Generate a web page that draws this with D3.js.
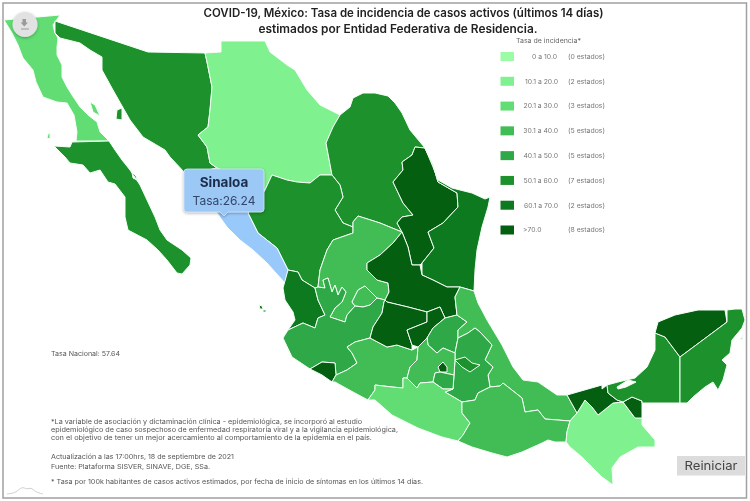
<!DOCTYPE html>
<html>
<head>
<meta charset="utf-8">
<title>Tasa de incidencia</title>
<script src="https://cdnjs.cloudflare.com/ajax/libs/d3/7.8.5/d3.min.js"></script>
<style>
html, body { margin: 0; padding: 0; background: #fff; }
svg { display: block; font-family: Inter, "Noto Sans", sans-serif; filter: blur(0.45px); }
</style>
</head>
<body>
<div id="chart"></div>
<script>
// tasa por estado
var stateNames = ["Baja California","Baja California Sur","Sonora","Chihuahua","Coahuila","Nuevo León","Tamaulipas","Durango","Sinaloa","Nayarit","Zacatecas","San Luis Potosí","Aguascalientes","Jalisco","Colima","Michoacán","Guanajuato","Querétaro","Hidalgo","Veracruz","Puebla","Tlaxcala","México","Ciudad de México","Morelos","Guerrero","Oaxaca","Chiapas","Tabasco","Campeche","Yucatán","Quintana Roo"];
var stateRates = [24,52,55,15,54,78,65,56,26.24,66,36,82,33,45,90,35,76,74,46,38,47,58,37,95,44,25,34,17,85,53,72,51];

// contornos digitalizados del mapa, mismo orden que stateNames
var stateRings = [
 [[[4,20],[60,15],[53,25],[55,33],[58,38],[57,47],[57,55],[62,65],[62,77],[67,87],[72,95],[80,107],[88,115],[97,122],[100,132],[109,141],[76,141],[77,132],[74,115],[67,103],[57,102],[43,97],[36,82],[33,70],[23,58],[18,45],[12,33]],
  [[90,102],[95,105],[100,116],[93,112]],[[48,134],[50,133],[50,139],[47,138]]],
 [[[109,141],[72,142],[70,147],[54,146],[65,157],[70,163],[83,165],[90,173],[100,170],[108,182],[115,184],[125,197],[125,217],[128,230],[147,240],[158,250],[167,260],[177,273],[182,274],[190,265],[191,258],[182,250],[167,240],[160,230],[155,217],[147,200],[140,185],[130,170],[122,160],[115,150]],
  [[132,172],[136,176],[137,180],[133,178]]],
 [[[55,21],[148,52],[205,53],[207,62],[212,87],[210,110],[208,127],[198,135],[207,147],[210,163],[217,168],[195,173],[185,173],[170,157],[165,150],[143,137],[130,120],[113,90],[102,70],[102,57],[90,50],[80,43],[60,38],[55,33]],
  [[117,110],[122,108],[122,120],[116,119]]],
 [[[205,53],[221,52],[221,41],[265,41],[270,52],[287,65],[295,70],[307,90],[320,105],[340,115],[333,127],[326,143],[332,175],[320,175],[310,183],[297,182],[287,180],[272,175],[265,190],[245,180],[217,168],[210,163],[207,147],[198,135],[208,127],[210,110],[212,87],[207,62]]],
 [[[340,115],[350,107],[353,98],[363,93],[375,93],[388,96],[395,103],[402,113],[410,130],[425,148],[415,147],[412,155],[402,162],[403,170],[393,182],[403,203],[413,215],[402,217],[397,223],[402,232],[380,223],[358,216],[353,222],[353,227],[343,223],[335,210],[343,197],[340,185],[332,175],[326,143],[333,127]]],
 [[[415,147],[425,148],[433,165],[438,182],[457,193],[458,207],[443,223],[428,232],[434,248],[422,263],[420,265],[412,265],[408,247],[402,232],[397,223],[402,217],[413,215],[403,203],[393,182],[403,170],[402,162],[412,155]]],
 [[[425,148],[433,167],[438,180],[452,188],[472,193],[485,199],[490,197],[488,207],[482,227],[477,250],[475,270],[474,291],[460,287],[447,287],[433,280],[422,275],[422,263],[434,248],[428,232],[443,223],[458,207],[457,193],[438,182],[433,165]]],
 [[[272,175],[287,180],[297,182],[310,183],[320,175],[332,175],[340,185],[343,197],[335,210],[343,223],[353,227],[353,233],[333,240],[327,250],[320,270],[318,287],[315,288],[302,280],[298,272],[288,270],[277,248],[258,233],[248,213],[265,190]]],
 [[[217,168],[245,180],[265,190],[248,213],[258,233],[277,248],[288,270],[285,283],[267,263],[253,250],[240,240],[227,227],[217,213],[200,190],[185,173],[195,173]]],
 [[[288,270],[298,272],[302,280],[315,288],[318,300],[325,315],[318,318],[315,328],[303,323],[288,330],[295,320],[293,312],[285,300],[283,288]],
  [[259,305],[262,306],[263,309],[260,309]],[[263,310],[266,310],[266,312],[263,312]]],
 [[[358,216],[380,223],[402,232],[393,243],[380,255],[367,263],[367,270],[377,280],[388,283],[389,292],[385,300],[377,298],[365,286],[358,290],[352,302],[355,306],[347,315],[345,322],[330,317],[335,308],[342,302],[346,292],[342,287],[338,295],[335,285],[332,292],[328,278],[323,280],[325,288],[318,287],[320,270],[327,250],[333,240],[353,233],[353,222]]],
 [[[402,232],[408,247],[412,265],[420,265],[422,275],[433,280],[447,287],[460,287],[455,297],[457,315],[445,318],[440,307],[427,312],[408,307],[387,302],[385,300],[389,292],[388,283],[377,280],[367,270],[367,263],[380,255],[393,243]]],
 [[[352,302],[358,290],[365,286],[377,298],[370,305],[363,307],[355,306]]],
 [[[288,330],[303,323],[315,328],[318,318],[325,315],[318,300],[315,288],[318,287],[325,288],[323,280],[328,278],[332,292],[335,285],[338,295],[342,287],[346,292],[342,302],[335,308],[330,317],[345,322],[347,315],[355,306],[363,307],[370,305],[377,298],[385,300],[384,302],[382,313],[373,327],[370,338],[355,342],[347,347],[352,353],[357,363],[347,370],[336,375],[335,363],[322,362],[310,369],[292,357],[283,338]]],
 [[[310,369],[322,362],[335,363],[336,375],[332,382],[322,375]]],
 [[[347,347],[355,342],[370,338],[387,347],[397,345],[412,350],[418,347],[417,360],[410,367],[407,378],[403,378],[403,388],[392,387],[375,385],[375,390],[370,397],[368,400],[353,392],[335,382],[332,382],[336,375],[347,370],[357,363],[352,353]]],
 [[[385,300],[387,302],[408,307],[427,312],[427,322],[407,330],[412,345],[412,350],[397,345],[387,347],[370,338],[373,327],[382,313],[384,302]]],
 [[[407,330],[427,322],[427,312],[440,307],[445,318],[433,328],[427,338],[418,347],[412,345]]],
 [[[427,338],[433,328],[445,318],[457,315],[467,322],[458,330],[458,338],[455,353],[443,348],[437,353],[428,345]]],
 [[[460,287],[474,291],[478,303],[487,320],[502,345],[513,367],[523,380],[538,382],[557,395],[567,395],[577,413],[570,421],[545,419],[538,410],[525,412],[522,398],[503,383],[500,386],[490,387],[488,375],[493,367],[485,360],[492,345],[480,332],[475,328],[468,333],[458,338],[458,330],[467,322],[457,315],[455,297]]],
 [[[475,328],[480,332],[492,345],[485,360],[493,367],[488,375],[490,387],[478,393],[475,400],[462,402],[445,392],[453,389],[454,375],[455,360],[455,353],[458,338],[468,333]]],
 [[[455,360],[465,357],[472,363],[480,365],[470,372],[462,367]]],
 [[[418,347],[427,338],[428,345],[437,353],[443,348],[455,353],[455,360],[454,375],[440,372],[435,373],[433,382],[420,383],[417,388],[407,378],[410,367],[417,360]]],
 [[[438,367],[443,362],[447,367],[447,372],[440,372]]],
 [[[435,373],[440,372],[454,375],[453,389],[443,389],[433,382]]],
 [[[375,385],[392,387],[403,388],[403,378],[407,378],[417,388],[420,383],[433,382],[443,389],[453,389],[445,392],[462,402],[462,413],[470,423],[463,435],[458,441],[442,437],[418,428],[392,415],[375,400],[368,400],[370,397],[375,390]]],
 [[[462,402],[475,400],[478,393],[490,387],[500,386],[503,383],[522,398],[525,412],[538,410],[545,419],[570,421],[567,432],[566,442],[555,442],[548,440],[542,443],[522,452],[507,457],[492,453],[472,447],[458,441],[463,435],[470,423],[462,413]]],
 [[[570,421],[577,413],[585,400],[592,407],[598,415],[613,403],[623,402],[635,418],[642,418],[642,425],[655,440],[655,447],[638,447],[620,457],[612,468],[613,485],[602,477],[582,457],[570,447],[566,442],[567,432]]],
 [[[567,395],[602,385],[602,389],[607,385],[608,393],[617,400],[623,402],[632,397],[642,401],[642,418],[635,418],[623,402],[613,403],[598,415],[592,407],[585,400],[577,413]]],
 [[[607,385],[618,382],[635,378],[647,367],[655,350],[655,333],[665,337],[680,357],[680,403],[642,403],[642,401],[632,397],[623,402],[617,400],[608,393]],
  [[617,387],[628,380],[636,382],[626,387],[618,389]]],
 [[[655,333],[658,322],[675,315],[698,310],[725,310],[727,322],[680,357],[665,337]]],
 [[[727,310],[735,309],[742,309],[745,320],[742,328],[732,340],[730,353],[722,360],[727,365],[723,380],[718,390],[713,382],[705,387],[693,397],[687,403],[680,403],[680,357],[727,322]],
  [[740,340],[743,335],[742,339]]]
];

// leyenda
var legendColors = ["#9cfba5","#80f18f","#61dd74","#42bd55","#2fa848","#1c912c","#0d7a1f","#045f10"];
var legendBreaks = [10,20,30,40,50,60,70];
var legendRanges = ["0 a 10.0","10.1 a  20.0","20.1 a 30.0","30.1 a 40.0","40.1 a 50.0","50.1 a 60.0","60.1 a 70.0",">70.0"];
var legendCounts = ["(0 estados)","(2 estados)","(3 estados)","(5 estados)","(5 estados)","(7 estados)","(2 estados)","(8 estados)"];

var titleLines = ["COVID-19, México: Tasa de incidencia de casos activos (últimos 14 días)","estimados por Entidad Federativa de Residencia."];
var titleCenter = [403.5,398];
var titleWidth = [400,279];
var noteLines = ["*La variable de asociación y dictaminación clínica - epidemiológica, se incorporó al estudio",
 "epidemiológico de caso sospechoso de enfermedad respiratoria viral y a la vigilancia epidemiológica,",
 "con el objetivo de tener un mejor acercamiento al comportamiento de la epidemia en el país.",
 "Actualización a las 17:00hrs, 18 de septiembre de 2021",
 "Fuente: Plataforma SISVER, SINAVE, DGE, SSa.",
 "* Tasa por 100k habitantes de casos activos estimados, por fecha de inicio de síntomas en los últimos 14 días."];
var noteY = [424,432,440,459,469,484];
var noteWidth = [311,347,321,183,159,372];

var selected = "Sinaloa";

var svg = d3.select("#chart").append("svg").attr("width", 750).attr("height", 501);

var defs = svg.append("defs");
var shadow = defs.append("filter").attr("id", "shadow").attr("x", "-30%").attr("y", "-30%").attr("width", "160%").attr("height", "160%");
shadow.append("feDropShadow").attr("dx", 0).attr("dy", 1).attr("stdDeviation", 1.5).attr("flood-color", "#000").attr("flood-opacity", 0.3);

// marco
svg.append("rect").attr("x", 3).attr("y", 3).attr("width", 743.5).attr("height", 495)
    .attr("fill", "#fff").attr("stroke", "#a0a0a0").attr("stroke-width", 1.5);

var color = d3.scaleThreshold().domain(legendBreaks).range(legendColors);
var projection = d3.geoIdentity();
var path = d3.geoPath(projection);

var states = stateNames.map(function(n, i){
    return {name: n, rate: stateRates[i], geo: {type: "MultiPolygon", coordinates: stateRings[i].map(function(r){ return [r.concat([r[0]])]; })}};
});

svg.append("g").selectAll("path")
    .data(states)
    .enter()
    .append("path")
    .attr("d", function(d){ return path(d.geo); })
    .attr("fill", function(d){ return d.name == selected ? "#99c9fb" : color(d.rate); })
    .attr("fill-rule", "evenodd")
    .attr("stroke", "#f4fff5")
    .attr("stroke-width", 1)
    .attr("stroke-linejoin", "round");

// titulo
svg.append("g").selectAll("text")
    .data(titleLines)
    .enter()
    .append("text")
    .attr("x", function(d, i){ return titleCenter[i]; })
    .attr("y", function(d, i){ return 17 + i * 15.5; })
    .attr("text-anchor", "middle")
    .attr("font-size", 11.5)
    .attr("font-weight", 600)
    .attr("fill", "#222")
    .attr("textLength", function(d, i){ return titleWidth[i]; })
    .attr("lengthAdjust", "spacingAndGlyphs")
    .text(function(d){ return d; });

// leyenda
var legendY = d3.scalePoint().domain(legendRanges).range([56.5, 230]);
svg.append("text").attr("x", 516).attr("y", 43).attr("font-size", 6.5).attr("fill", "#666")
    .attr("textLength", 65).attr("lengthAdjust", "spacingAndGlyphs").text("Tasa de incidencia*");
var legend = svg.append("g").selectAll("g")
    .data(legendRanges)
    .enter()
    .append("g")
    .attr("transform", function(d){ return "translate(0," + legendY(d) + ")"; });
legend.append("rect").attr("x", 500.5).attr("y", -4.5).attr("width", 13.5).attr("height", 9)
    .attr("fill", function(d, i){ return legendColors[i]; });
legend.append("text")
    .attr("x", function(d, i){ return i == 0 ? 557 : i == 7 ? 523 : 558; })
    .attr("y", 2.3)
    .attr("text-anchor", function(d, i){ return i == 7 ? "start" : "end"; })
    .attr("font-size", 6.8).attr("fill", "#777")
    .text(function(d){ return d; });
legend.append("text").attr("x", 568).attr("y", 2.3).attr("font-size", 6.8).attr("fill", "#777")
    .attr("textLength", 37).attr("lengthAdjust", "spacingAndGlyphs")
    .text(function(d, i){ return legendCounts[i]; });

// notas
svg.append("text").attr("x", 51).attr("y", 355.5).attr("font-size", 6.5).attr("fill", "#555")
    .attr("textLength", 69).attr("lengthAdjust", "spacingAndGlyphs").text("Tasa Nacional: 57.64");
svg.append("g").selectAll("text")
    .data(noteLines)
    .enter()
    .append("text")
    .attr("x", 51)
    .attr("y", function(d, i){ return noteY[i]; })
    .attr("font-size", 6.8)
    .attr("fill", "#555")
    .attr("textLength", function(d, i){ return noteWidth[i]; })
    .attr("lengthAdjust", "spacingAndGlyphs")
    .text(function(d){ return d; });

// tooltip
var tip = svg.append("g").attr("filter", "url(#shadow)");
tip.append("path")
    .attr("d", "M187,169H261a3,3 0 0 1 3,3V209a3,3 0 0 1 -3,3H228L224,216L220,212H187a3,3 0 0 1 -3,-3V172a3,3 0 0 1 3,-3Z")
    .attr("fill", "#9cc8f6").attr("stroke", "#cfe2f8").attr("stroke-width", 0.8);
tip.append("text").attr("x", 224).attr("y", 187).attr("text-anchor", "middle")
    .attr("font-size", 13.5).attr("font-weight", 700).attr("fill", "#1c2c4c").text(selected);
tip.append("text").attr("x", 224).attr("y", 205).attr("text-anchor", "middle")
    .attr("font-size", 12).attr("fill", "#33466a").text("Tasa:" + stateRates[stateNames.indexOf(selected)]);

// boton de descarga
var dl = svg.append("g");
dl.append("circle").attr("cx", 25).attr("cy", 24.5).attr("r", 12.5).attr("fill", "#e2e2e2").attr("filter", "url(#shadow)");
dl.append("path").attr("d", "M22.5,19h3.5v3.5h2l-3.7,4l-3.7,-4h1.9Z").attr("fill", "#9a9a9a");
dl.append("rect").attr("x", 21).attr("y", 28.5).attr("width", 8).attr("height", 1).attr("fill", "#9a9a9a");

// boton reiniciar
svg.append("rect").attr("x", 677).attr("y", 456).attr("width", 68).attr("height", 19.5).attr("fill", "#dcdcdc");
svg.append("text").attr("x", 711).attr("y", 470).attr("text-anchor", "middle")
    .attr("font-size", 12).attr("fill", "#444").attr("textLength", 53).attr("lengthAdjust", "spacingAndGlyphs").text("Reiniciar");

// logo
var logoX = [7,16,22,27,31,35,43];
var logoY = [494,493,486,490,487,492,494];
var logoLine = d3.line().curve(d3.curveBasis);
svg.append("path").attr("d", logoLine(d3.zip(logoX, logoY)))
    .attr("fill", "none").attr("stroke", "#bbb").attr("stroke-width", 0.7);
</script>
</body>
</html>
